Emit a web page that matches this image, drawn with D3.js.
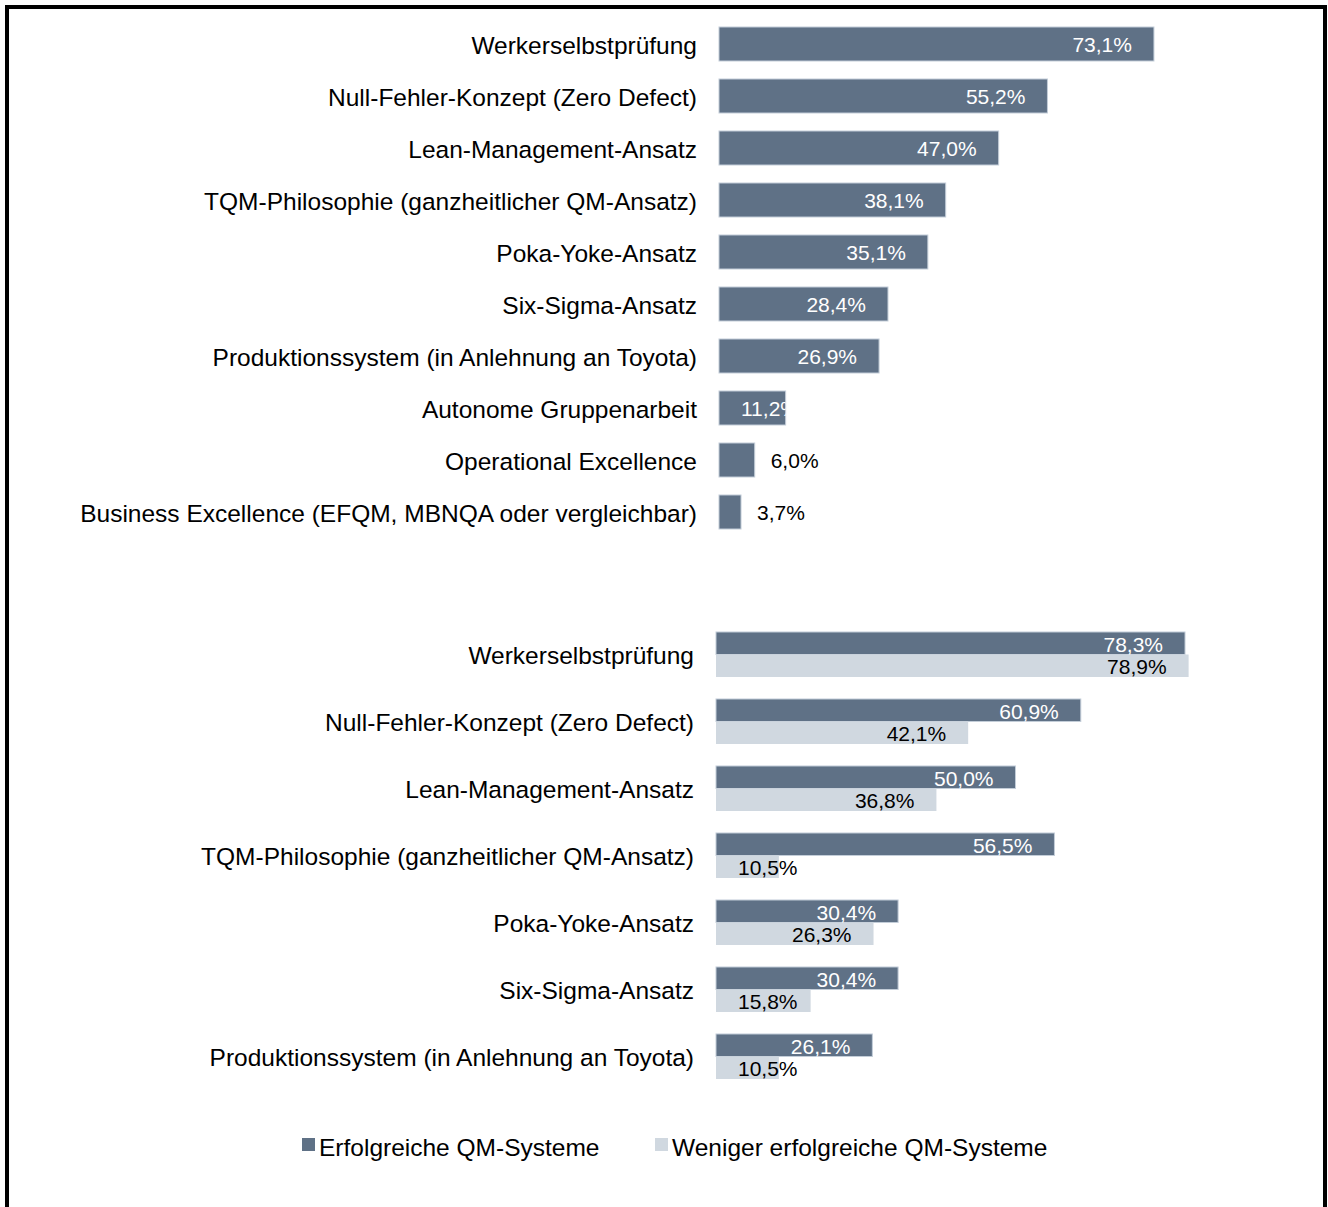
<!DOCTYPE html>
<html>
<head>
<meta charset="utf-8">
<script src="https://cdn.jsdelivr.net/npm/d3@7"></script>
<style>
  html, body { margin: 0; padding: 0; background: #fff; }
  svg { display: block; font-family: "Liberation Sans", Arial, sans-serif; }
</style>
</head>
<body>
<svg id="chart" width="1328" height="1207"></svg>
<script>
// Daten
const topCategories = [
  "Werkerselbstprüfung",
  "Null-Fehler-Konzept (Zero Defect)",
  "Lean-Management-Ansatz",
  "TQM-Philosophie (ganzheitlicher QM-Ansatz)",
  "Poka-Yoke-Ansatz",
  "Six-Sigma-Ansatz",
  "Produktionssystem (in Anlehnung an Toyota)",
  "Autonome Gruppenarbeit",
  "Operational Excellence",
  "Business Excellence (EFQM, MBNQA oder vergleichbar)"
];
const topValues = [73.1, 55.2, 47.0, 38.1, 35.1, 28.4, 26.9, 11.2, 6.0, 3.7];

const bottomCategories = [
  "Werkerselbstprüfung",
  "Null-Fehler-Konzept (Zero Defect)",
  "Lean-Management-Ansatz",
  "TQM-Philosophie (ganzheitlicher QM-Ansatz)",
  "Poka-Yoke-Ansatz",
  "Six-Sigma-Ansatz",
  "Produktionssystem (in Anlehnung an Toyota)"
];
const erfolgreichValues = [78.3, 60.9, 50.0, 56.5, 30.4, 30.4, 26.1];
const wenigerValues = [78.9, 42.1, 36.8, 10.5, 26.3, 15.8, 10.5];

const seriesKeys = ["erfolgreich", "weniger"];
const legendLabels = ["Erfolgreiche QM-Systeme", "Weniger erfolgreiche QM-Systeme"];

const dark = "#5f7186";
const light = "#d0d8e0";
const barStroke = "#c3cdd8";

const de = d3.formatLocale({ decimal: ",", thousands: ".", grouping: [3], currency: ["", " €"] });
const fmt = v => de.format(".1f")(v) + "%";

const svg = d3.select("#chart");
const defs = svg.append("defs");

// Rahmen
svg.append("rect")
  .attr("x", 7).attr("y", 7)
  .attr("width", 1318).attr("height", 1260)
  .attr("fill", "none")
  .attr("stroke", "#000")
  .attr("stroke-width", 4);

// Platziert Beschriftung innerhalb des Balkens (rechtsbündig, mit Mindestabstand links)
function placeInside(sel, x0, barEnd) {
  sel.each(function (d) {
    const w = this.getComputedTextLength();
    const end = Math.max(x0 + 22 + w, barEnd(d) - 22);
    d3.select(this).attr("x", end).attr("text-anchor", "end");
  });
}

/* ---------- oberes Diagramm ---------- */
const xTop = d3.scaleLinear().domain([0, 100]).range([719, 719 + 595]);
const yTop = d3.scaleBand().domain(topCategories).range([18, 538])
  .paddingInner(0.346).paddingOuter(0.173);

const topData = topCategories.map((c, i) => ({ cat: c, value: topValues[i], i }));

const gTop = svg.append("g");

gTop.selectAll("text.cat")
  .data(topData)
  .join("text")
  .attr("class", "cat")
  .attr("x", 697)
  .attr("y", d => yTop(d.cat) + yTop.bandwidth() / 2 + 1)
  .attr("dy", "0.35em")
  .attr("text-anchor", "end")
  .attr("font-size", 24.5)
  .attr("fill", "#000")
  .text(d => d.cat);

gTop.selectAll("rect.bar")
  .data(topData)
  .join("rect")
  .attr("class", "bar")
  .attr("x", xTop(0))
  .attr("y", d => yTop(d.cat))
  .attr("width", d => xTop(d.value) - xTop(0))
  .attr("height", yTop.bandwidth())
  .attr("fill", dark)
  .attr("stroke", barStroke)
  .attr("stroke-width", 1);

defs.selectAll("clipPath.top")
  .data(topData)
  .join("clipPath")
  .attr("class", "top")
  .attr("id", d => "clipTop" + d.i)
  .append("rect")
  .attr("x", xTop(0))
  .attr("y", d => yTop(d.cat))
  .attr("width", d => xTop(d.value) - xTop(0))
  .attr("height", yTop.bandwidth());

const insideTop = topData.filter(d => d.value >= 10);
const outsideTop = topData.filter(d => d.value < 10);

gTop.selectAll("text.valIn")
  .data(insideTop)
  .join("text")
  .attr("class", "valIn")
  .attr("y", d => yTop(d.cat) + yTop.bandwidth() / 2 + 1)
  .attr("dy", "0.35em")
  .attr("font-size", 21)
  .attr("fill", "#fff")
  .attr("clip-path", d => `url(#clipTop${d.i})`)
  .text(d => fmt(d.value))
  .call(placeInside, xTop(0), d => xTop(d.value));

gTop.selectAll("text.valOut")
  .data(outsideTop)
  .join("text")
  .attr("class", "valOut")
  .attr("x", d => xTop(d.value) + 16)
  .attr("y", d => yTop(d.cat) + yTop.bandwidth() / 2 + 1)
  .attr("dy", "0.35em")
  .attr("font-size", 21)
  .attr("fill", "#000")
  .text(d => fmt(d.value));

/* ---------- unteres Diagramm ---------- */
const xBot = d3.scaleLinear().domain([0, 100]).range([716, 716 + 599]);
const yBot = d3.scaleBand().domain(bottomCategories).range([621, 1090])
  .paddingInner(0.328).paddingOuter(0.164);
const ySub = d3.scaleBand().domain(seriesKeys).range([0, yBot.bandwidth()]);
const color = d3.scaleOrdinal().domain(seriesKeys).range([dark, light]);
const textColor = d3.scaleOrdinal().domain(seriesKeys).range(["#fff", "#000"]);

const botData = [];
bottomCategories.forEach((c, i) => {
  botData.push({ cat: c, key: "erfolgreich", value: erfolgreichValues[i] });
  botData.push({ cat: c, key: "weniger", value: wenigerValues[i] });
});

const gBot = svg.append("g");

gBot.selectAll("text.cat")
  .data(bottomCategories)
  .join("text")
  .attr("class", "cat")
  .attr("x", 694)
  .attr("y", d => yBot(d) + yBot.bandwidth() / 2 + 1)
  .attr("dy", "0.35em")
  .attr("text-anchor", "end")
  .attr("font-size", 24.5)
  .attr("fill", "#000")
  .text(d => d);

gBot.selectAll("rect.bar")
  .data(botData)
  .join("rect")
  .attr("class", "bar")
  .attr("x", xBot(0))
  .attr("y", d => yBot(d.cat) + ySub(d.key))
  .attr("width", d => xBot(d.value) - xBot(0))
  .attr("height", ySub.bandwidth())
  .attr("fill", d => color(d.key))
  .attr("stroke", d => d.key === "erfolgreich" ? barStroke : "none")
  .attr("stroke-width", 1);

gBot.selectAll("text.val")
  .data(botData)
  .join("text")
  .attr("class", "val")
  .attr("y", d => yBot(d.cat) + ySub(d.key) + ySub.bandwidth() / 2 + 1)
  .attr("dy", "0.35em")
  .attr("font-size", 21)
  .attr("fill", d => textColor(d.key))
  .text(d => fmt(d.value))
  .call(placeInside, xBot(0), d => xBot(d.value));

/* ---------- Legende ---------- */
const legendX = [302, 655];
const legend = svg.append("g");
const li = legend.selectAll("g")
  .data(seriesKeys)
  .join("g")
  .attr("transform", (d, i) => `translate(${legendX[i]}, 1138)`);

li.append("rect")
  .attr("width", 13).attr("height", 13)
  .attr("fill", d => color(d));

li.append("text")
  .attr("x", 17)
  .attr("y", 18)
  .attr("font-size", 24.5)
  .attr("fill", "#000")
  .text((d, i) => legendLabels[i]);
</script>
</body>
</html>
